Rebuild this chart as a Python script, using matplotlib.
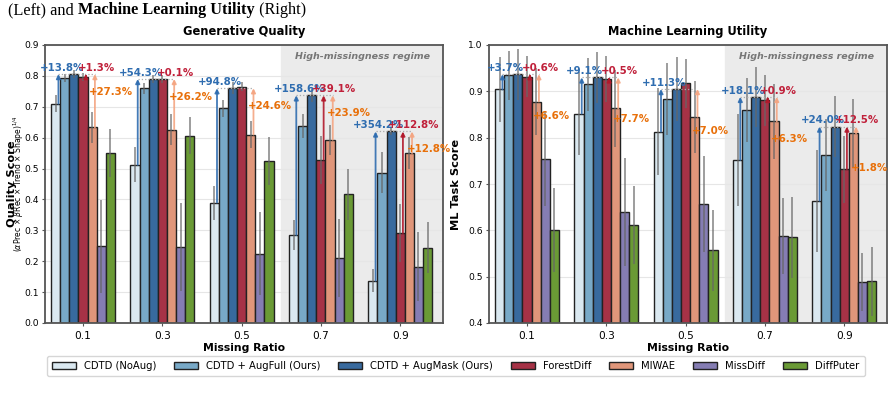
import matplotlib
matplotlib.use('Agg')
import matplotlib.pyplot as plt
from matplotlib.patches import Patch
import numpy as np

ratios = ['0.1', '0.3', '0.5', '0.7', '0.9']
methods = ['CDTD (NoAug)', 'CDTD + AugFull (Ours)', 'CDTD + AugMask (Ours)',
           'ForestDiff', 'MIWAE', 'MissDiff', 'DiffPuter']
colors = ['#dae8f0', '#78a9c7', '#386a9e', '#a63246', '#e0967a', '#857db3', '#6a9a35']

# Generative quality (left), one row per method, one column per missing ratio
gq_mean = [
    [0.710, 0.512, 0.390, 0.285, 0.137],
    [0.793, 0.760, 0.695, 0.638, 0.487],
    [0.806, 0.790, 0.760, 0.737, 0.620],
    [0.797, 0.790, 0.765, 0.529, 0.291],
    [0.633, 0.626, 0.610, 0.593, 0.550],
    [0.248, 0.247, 0.225, 0.211, 0.182],
    [0.551, 0.606, 0.525, 0.417, 0.244],
]
gq_std = [
    [0.027, 0.057, 0.055, 0.048, 0.038],
    [0.012, 0.018, 0.027, 0.039, 0.065],
    [0.012, 0.012, 0.020, 0.022, 0.012],
    [0.013, 0.012, 0.015, 0.078, 0.093],
    [0.050, 0.050, 0.045, 0.048, 0.052],
    [0.150, 0.143, 0.135, 0.126, 0.112],
    [0.078, 0.060, 0.077, 0.083, 0.083],
]
gq_gain_noaug = [13.8, 54.3, 94.8, 158.6, 354.2]
gq_gain_forest = [1.3, 0.1, None, 39.1, 112.8]
gq_gain_miwae = [27.3, 26.2, 24.6, 23.9, 12.8]

# ML utility (right)
ml_mean = [
    [0.904, 0.852, 0.813, 0.752, 0.664],
    [0.935, 0.915, 0.883, 0.860, 0.762],
    [0.937, 0.930, 0.905, 0.888, 0.824],
    [0.932, 0.926, 0.917, 0.881, 0.732],
    [0.878, 0.863, 0.845, 0.835, 0.809],
    [0.755, 0.640, 0.657, 0.588, 0.488],
    [0.601, 0.612, 0.557, 0.585, 0.490],
]
ml_std = [
    [0.071, 0.089, 0.094, 0.100, 0.110],
    [0.053, 0.058, 0.078, 0.069, 0.078],
    [0.055, 0.055, 0.070, 0.064, 0.066],
    [0.045, 0.050, 0.053, 0.055, 0.072],
    [0.072, 0.083, 0.078, 0.080, 0.074],
    [0.102, 0.116, 0.103, 0.082, 0.063],
    [0.090, 0.084, 0.087, 0.087, 0.075],
]
ml_gain_noaug = [3.7, 9.1, 11.3, 18.1, 24.0]
ml_gain_forest = [0.6, 0.5, None, 0.9, 12.5]
ml_gain_miwae = [6.6, 7.7, 7.0, 6.3, 1.8]

W = 0.115
x = np.arange(len(ratios))


def draw_panel(ax, mean, std, gains, title, ylim, orange_drop):
    ax.axvspan(2.5, 5, color='#ebebeb', zorder=0)
    for k in range(len(methods)):
        ax.bar(x + (k - 3) * W, mean[k], W, yerr=std[k], color=colors[k],
               edgecolor='#222222', linewidth=1.0, zorder=2,
               error_kw=dict(ecolor='#666666', elinewidth=1.2, alpha=0.75, capsize=0, zorder=3))

    g_noaug, g_forest, g_miwae = gains
    span = ylim[1] - ylim[0]
    for i in range(len(ratios)):
        top = mean[2][i]
        xb = x[i] + (0 - 3) * W + 0.3 * W
        xf = x[i] + (3 - 3) * W + 0.3 * W
        xm = x[i] + (4 - 3) * W + 0.3 * W
        ax.plot([xb, xm], [top, top], ls=':', color='#aaaaaa', lw=0.9, zorder=3)
        arrows = [(xb, mean[0][i], '#2f6db0', g_noaug[i]),
                  (xf, mean[3][i], '#b2182b', g_forest[i]),
                  (xm, mean[4][i], '#f4a582', g_miwae[i])]
        for ax_x, base, c, g in arrows:
            if g is None:
                continue
            ax.annotate('', xy=(ax_x, top), xytext=(ax_x, base),
                        arrowprops=dict(arrowstyle='-|>', color=c, lw=1.3, alpha=0.9,
                                        mutation_scale=6, shrinkA=0, shrinkB=0), zorder=4)
        ax.text(xb + 0.04, top + 0.022 * span, '+%.1f%%' % g_noaug[i], ha='center', va='center',
                color='#2f6db0', fontsize=7.4, fontweight='bold', zorder=5)
        if g_forest[i] is not None:
            ax.text(xf + 0.13, top + 0.022 * span, '+%.1f%%' % g_forest[i], ha='center', va='center',
                    color='#c0203a', fontsize=7.4, fontweight='bold', zorder=5)
        ax.text(xm - 0.07, top - orange_drop, '+%.1f%%' % g_miwae[i], ha='left', va='center',
                color='#e8700a', fontsize=7.4, fontweight='bold', zorder=5)

    ax.text(3.52, ylim[1] - 0.04 * span, 'High-missingness regime', ha='center', va='center',
            color='#777777', fontsize=6.8, fontweight='bold', style='italic', zorder=5)
    ax.set_xlim(-0.48, 4.54)
    ax.set_ylim(*ylim)
    ax.set_xticks(x)
    ax.set_xticklabels(ratios, fontsize=7.6)
    ax.tick_params(axis='y', labelsize=6.6, length=2.5, color='#555555', pad=2)
    ax.tick_params(axis='x', length=2.5, color='#555555', pad=3)
    ax.set_title(title, fontsize=8.3, fontweight='bold', pad=7)
    ax.set_xlabel('Missing Ratio', fontsize=7.8, fontweight='bold', labelpad=2)
    ax.grid(axis='y', color='#e6e6e6', lw=0.8, zorder=1)
    ax.set_axisbelow(True)
    for s in ax.spines.values():
        s.set_color('#555555')
        s.set_linewidth(1.3)


fig = plt.figure(figsize=(8.95, 3.94), dpi=100)
ax1 = fig.add_axes([45 / 895, 71 / 394, 398 / 895, 278 / 394])
ax2 = fig.add_axes([489 / 895, 71 / 394, 398 / 895, 278 / 394])

draw_panel(ax1, gq_mean, gq_std, (gq_gain_noaug, gq_gain_forest, gq_gain_miwae),
           'Generative Quality', (0.0, 0.9), 0.057)
ax1.set_yticks(np.arange(0, 0.91, 0.1))
ax1.text(-0.084, 0.5, 'Quality Score', transform=ax1.transAxes, rotation=90,
         ha='center', va='center', fontsize=8.2, fontweight='bold')
ax1.text(-0.066, 0.5, r'($\alpha$Prec $\times$ $\beta$Rec $\times$ Trend $\times$ Shape)$^{1/4}$',
         transform=ax1.transAxes, rotation=90, ha='center', va='center', fontsize=5.5)

draw_panel(ax2, ml_mean, ml_std, (ml_gain_noaug, ml_gain_forest, ml_gain_miwae),
           'Machine Learning Utility', (0.4, 1.0), 0.09)
ax2.set_yticks(np.arange(0.4, 1.01, 0.1))
ax2.set_ylabel('ML Task Score', fontsize=8.2, fontweight='bold', labelpad=5)

handles = [Patch(facecolor=c, edgecolor='#222222', label=m) for c, m in zip(colors, methods)]
fig.legend(handles=handles, loc='center', ncol=7, bbox_to_anchor=(0.509, 0.07),
           fontsize=7.2, frameon=True, edgecolor='#cccccc', handlelength=2.4,
           columnspacing=1.8, borderpad=0.5)

# caption fragment above the figure
fig.canvas.draw()
r = fig.canvas.get_renderer()
xpos = 8 / 895
for txt, wt in [('(Left) and ', 'normal'), ('Machine Learning Utility', 'bold'), (' (Right)', 'normal')]:
    t = fig.text(xpos, 1 - 10 / 394, txt, fontsize=11.7, fontweight=wt,
                 family='Liberation Serif', va='center', ha='left')
    bb = t.get_window_extent(renderer=r)
    xpos += bb.width / fig.bbox.width

fig.savefig('out.png', dpi=100)
